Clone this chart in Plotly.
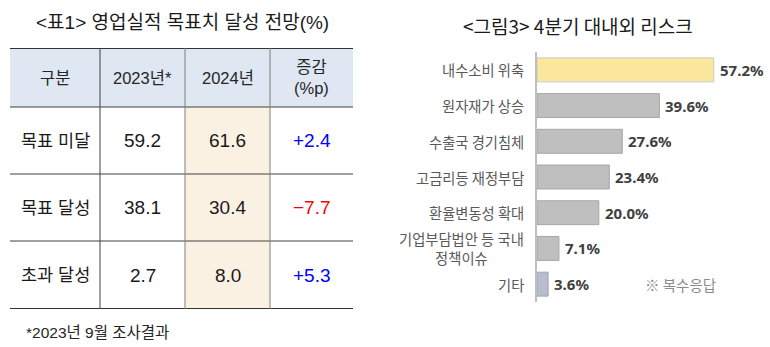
import plotly.graph_objects as go
import numpy as np

# ---------------- data ----------------
table_title = "<표1> 영업실적 목표치 달성 전망(%)"
table_header = ["구분", "2023년*", "2024년", "증감<br>(%p)"]
table_rows = ["목표 미달", "목표 달성", "초과 달성"]
values_2023 = [59.2, 38.1, 2.7]
values_2024 = [61.6, 30.4, 8.0]
changes = [2.4, -7.7, 5.3]
footnote = "*2023년 9월 조사결과"

chart_title = "<그림3> 4분기 대내외 리스크"
risk_categories = ["내수소비 위축", "원자재가 상승", "수출국 경기침체", "고금리등 재정부담",
                   "환율변동성 확대", "기업부담법안 등 국내<br>정책이슈", "기타"]
risk_values = [57.2, 39.6, 27.6, 23.4, 20.0, 7.1, 3.6]
risk_note = "※ 복수응답"

# ---------------- layout constants ----------------
W, H = 770, 347
CJK = "Noto Sans CJK KR"
TFONT = "Liberation Sans, Noto Sans CJK KR"

fig = go.Figure()

# ---------- right: horizontal bar chart ----------
bar_colors = ["#FBE89C"] + ["#BFBFBF"] * 5 + ["#B8BDCD"]
bar_lines = ["#C8C8C8"] + ["#A6A6A6"] * 5 + ["#A0A4B4"]
fig.add_trace(go.Bar(
    x=risk_values, y=risk_categories, orientation="h",
    marker=dict(color=bar_colors, line=dict(color=bar_lines, width=1)),
    width=0.67, xaxis="x", yaxis="y", showlegend=False, hoverinfo="skip",
))

ax_left = 537
px_per_unit = 3.09
x_max = (W - ax_left) / px_per_unit
y_bottom, y_top = 302, 52
fig.update_layout(
    xaxis=dict(domain=[ax_left / W, 1], range=[0, x_max], visible=False),
    yaxis=dict(domain=[(H - y_bottom) / H, (H - y_top) / H],
               categoryorder="array", categoryarray=risk_categories,
               autorange="reversed", showticklabels=False, showgrid=False,
               zeroline=False, showline=True, linecolor="#BFBFBF", linewidth=2,
               ticks=""),
)

annotations = []
for cat, v in zip(risk_categories, risk_values):
    annotations.append(dict(x=v, y=cat, xref="x", yref="y", text=f"<b>{v:.1f}%</b>",
                            showarrow=False, xanchor="left", xshift=4,
                            font=dict(family="Noto Sans, " + CJK, size=15, color="#404040")))
    annotations.append(dict(x=0, y=cat, xref="x", yref="y", text=cat, showarrow=False,
                            xanchor="right", xshift=-11, align="center",
                            font=dict(family=CJK, size=14.3, color="#595959")))
annotations.append(dict(x=(ax_left + 143) / W, y=risk_categories[-1], xref="paper", yref="y",
                        text=risk_note, showarrow=False, xanchor="center",
                        font=dict(family=CJK, size=14.5, color="#8C8C8C")))
annotations.append(dict(x=578 / W, y=(H - 25) / H, xref="paper", yref="paper",
                        text=chart_title, showarrow=False, xanchor="center", yanchor="middle",
                        font=dict(family=CJK, size=19, color="#1a1a1a")))

# ---------- left: table drawn on its own axes ----------
col_w = [90, 85, 85, 83]
row_h = [59, 67, 67, 68]
col_edges = np.concatenate([[0], np.cumsum(col_w)])
row_edges = np.concatenate([[0], np.cumsum(row_h)])
tbl_x0, tbl_y0 = 10, 48
fig.update_layout(
    xaxis2=dict(domain=[tbl_x0 / W, (tbl_x0 + col_edges[-1]) / W], range=[0, col_edges[-1]],
                visible=False, anchor="y2"),
    yaxis2=dict(domain=[(H - tbl_y0 - row_edges[-1]) / H, (H - tbl_y0) / H],
                range=[row_edges[-1], 0], visible=False, anchor="x2"),
)
# invisible trace to activate axes
fig.add_trace(go.Scatter(x=[0], y=[0], xaxis="x2", yaxis="y2", mode="markers",
                         marker=dict(opacity=0), showlegend=False, hoverinfo="skip"))

shapes = []
# header background
shapes.append(dict(type="rect", xref="x2", yref="y2", x0=0, x1=col_edges[-1],
                   y0=0, y1=row_edges[1], fillcolor="#DEE7F2", line_width=0, layer="below"))
# 2024 column background
shapes.append(dict(type="rect", xref="x2", yref="y2", x0=col_edges[2], x1=col_edges[3],
                   y0=row_edges[1], y1=row_edges[-1], fillcolor="#FBF1E3", line_width=0, layer="below"))
# horizontal lines
for i, y in enumerate(row_edges):
    thick = i in (0, len(row_edges) - 1)
    shapes.append(dict(type="line", xref="x2", yref="y2", x0=0, x1=col_edges[-1], y0=y, y1=y,
                       line=dict(color="#333333" if thick else "#404040", width=2 if thick else 1)))
# vertical lines
for j in range(1, len(col_edges) - 1):
    c = "#404040" if j == 1 else "#7F7F7F"
    shapes.append(dict(type="line", xref="x2", yref="y2", x0=col_edges[j], x1=col_edges[j],
                       y0=0, y1=row_edges[-1], line=dict(color=c, width=1)))

cx = (col_edges[:-1] + col_edges[1:]) / 2
cy = (row_edges[:-1] + row_edges[1:]) / 2
for j, h in enumerate(table_header):
    annotations.append(dict(x=cx[j], y=cy[0], xref="x2", yref="y2", text=h, showarrow=False,
                            font=dict(family=TFONT, size=16.5, color="#262626"), align="center"))
for i, name in enumerate(table_rows):
    ch = changes[i]
    ch_txt = f"+{ch:.1f}" if ch > 0 else f"−{abs(ch):.1f}"
    ch_col = "#0000FF" if ch > 0 else "#FF0000"
    cells = [(name, "#1a1a1a", 17.5), (f"{values_2023[i]:.1f}", "#1a1a1a", 19),
             (f"{values_2024[i]:.1f}", "#1a1a1a", 19), (ch_txt, ch_col, 19)]
    for j, (t, c, s) in enumerate(cells):
        annotations.append(dict(x=cx[j], y=cy[i + 1], xref="x2", yref="y2", text=t,
                                showarrow=False, font=dict(family=TFONT, size=s, color=c)))

annotations.append(dict(x=182 / W, y=(H - 22) / H, xref="paper", yref="paper", text=table_title,
                        showarrow=False, xanchor="center", yanchor="middle",
                        font=dict(family=TFONT, size=19, color="#1a1a1a")))
annotations.append(dict(x=24 / W, y=(H - 332) / H, xref="paper", yref="paper", text=footnote,
                        showarrow=False, xanchor="left", yanchor="middle",
                        font=dict(family=TFONT, size=15.5, color="#262626")))

fig.update_layout(width=W, height=H, margin=dict(l=0, r=0, t=0, b=0),
                  paper_bgcolor="white", plot_bgcolor="rgba(0,0,0,0)",
                  annotations=annotations, shapes=shapes, bargap=0.33)

fig.write_html("out.html")
